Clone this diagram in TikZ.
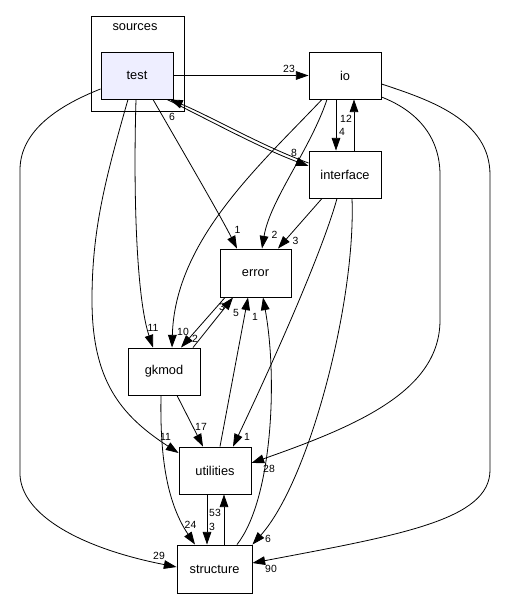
\documentclass[tikz,border=0pt]{standalone}
\usepackage{fontspec}
\setmainfont{Liberation Sans}
\usetikzlibrary{arrows.meta}
\definecolor{testfill}{RGB}{238,238,255}
\begin{document}
\begin{tikzpicture}[x=0.75pt,y=-0.75pt,
  box/.style={draw, line width=0.7pt, inner sep=0pt, minimum width=54pt, minimum height=35.25pt, font=\fontsize{9.6pt}{11pt}\selectfont},
  cluster/.style={draw, line width=0.7pt, inner sep=0pt, minimum width=69.75pt, minimum height=71.25pt},
  dep/.style={draw, line width=0.6pt, -{Triangle[length=9.5pt,width=6.5pt]}},
  lbl/.style={font=\fontsize{7.8pt}{9pt}\selectfont, inner sep=0pt}]
\useasboundingbox[fill=white] (0,0) rectangle (509,609);
% cluster
\node[cluster] (sources) at (137.5,63.5) {};
\node[font=\fontsize{9.6pt}{11pt}\selectfont, inner sep=0pt] (sourceslbl) at (135,27) {sources};
% nodes
\node[box, fill=testfill] (test) at (137,75.5) {test};
\node[box] (io) at (345,75.5) {io};
\node[box] (interface) at (345,174.5) {interface};
\node[box, minimum width=53.25pt, minimum height=36pt] (error) at (255.5,273) {error};
\node[box] (gkmod) at (164,371.5) {gkmod};
\node[box] (utilities) at (215,470.5) {utilities};
\node[box, minimum width=56.25pt, minimum height=36pt] (structure) at (214.5,569) {structure};
% edges
\draw[dep] (test.east) -- (io.west) node[lbl,at={(289,68.5)}] {23};
\draw[dep] ([shift={(30,0)}]test.south) .. controls (205,118) and (260,148) .. ([shift={(0,-8.5)}]interface.west) node[lbl,at={(294,153)}] {8};
\draw[dep] ([shift={(0,-11.5)}]interface.west) .. controls (262,146) and (210,116) .. ([shift={(33,0)}]test.south) node[lbl,at={(172,117)}] {6};
\draw[dep] ([shift={(-9,0)}]io.south) -- ([shift={(-9,0)}]interface.north) node[lbl,at={(342,132)}] {4};
\draw[dep] ([shift={(9,0)}]interface.north) -- ([shift={(9,0)}]io.south) node[lbl,at={(346,119)}] {12};
\draw[dep] ([shift={(16,0)}]test.south) .. controls (185,155) and (220,215) .. ([shift={(-18.5,0)}]error.north) node[lbl,at={(237.5,229.5)}] {1};
\draw[dep] ([shift={(-18,0)}]io.south) .. controls (310,150) and (270,200) .. ([shift={(6.5,0)}]error.north) node[lbl,at={(274.5,234.5)}] {2};
\draw[dep] ([shift={(-23,0)}]interface.south) -- ([shift={(22.5,0)}]error.north) node[lbl,at={(295.5,241)}] {3};
\draw[dep] ([shift={(-23,0)}]io.south) .. controls (260,165) and (175,240) .. ([shift={(8,0)}]gkmod.north) node[lbl,at={(183,332)}] {10};
\draw[dep] ([shift={(-1,0)}]test.south) .. controls (133,200) and (137,300) .. ([shift={(-11,0)}]gkmod.north) node[lbl,at={(153,328)}] {11};
\draw[dep] ([shift={(-9,0)}]test.south) .. controls (105,180) and (92,230) .. (92,300) .. controls (92,380) and (120,415) .. ([shift={(0,-17.5)}]utilities.west) node[lbl,at={(165.5,437)}] {11};
\draw[dep] ([shift={(0,13.5)}]test.west) .. controls (60,105) and (20,130) .. (20,170) -- (20,475) .. controls (22,515) and (80,548) .. ([shift={(0,-2)}]structure.west) node[lbl,at={(159,556)}] {29};
\draw[dep] ([shift={(0,21.5)}]io.east) .. controls (415,110) and (440,135) .. (440,175) -- (440,320) .. controls (440,390) and (360,425) .. ([shift={(0,-7.5)}]utilities.east) node[lbl,at={(269,469)}] {28};
\draw[dep] ([shift={(0,8.5)}]io.east) .. controls (430,100) and (490,120) .. (490,175) -- (490,470) .. controls (490,520) and (400,535) .. ([shift={(0,-6)}]structure.east) node[lbl,at={(271,569)}] {90};
\draw[dep] ([shift={(-8,0)}]interface.south) .. controls (320,260) and (260,390) .. ([shift={(18,0)}]utilities.north) node[lbl,at={(247,437)}] {1};
\draw[dep] ([shift={(7,0)}]interface.south) .. controls (356,300) and (310,480) .. (structure.north east) node[lbl,at={(268,539)}] {6};
\draw[dep] ([shift={(13,0)}]gkmod.south) -- ([shift={(-12,0)}]utilities.north) node[lbl,at={(201,426.5)}] {17};
\draw[dep] ([shift={(-3,0)}]gkmod.south) .. controls (160,450) and (165,500) .. ([shift={(-19.5,0)}]structure.north) node[lbl,at={(190.5,525)}] {24};
\draw[dep] ([shift={(29,0)}]gkmod.north) -- ([shift={(-22.5,0)}]error.south) node[lbl,at={(222,307)}] {3};
\draw[dep] ([shift={(-30.5,0)}]error.south) -- ([shift={(17,0)}]gkmod.north) node[lbl,at={(195,339)}] {2};
\draw[dep] ([shift={(5,0)}]utilities.north) -- ([shift={(-7.5,0)}]error.south) node[lbl,at={(236,313)}] {5};
\draw[dep] ([shift={(22.5,0)}]structure.north) .. controls (272,500) and (278,380) .. ([shift={(7.5,0)}]error.south) node[lbl,at={(255,317)}] {1};
\draw[dep] ([shift={(-8,0)}]utilities.south) -- ([shift={(-7.5,0)}]structure.north) node[lbl,at={(212,527)}] {3};
\draw[dep] ([shift={(9.5,0)}]structure.north) -- ([shift={(9,0)}]utilities.south) node[lbl,at={(215,512.5)}] {53};
\end{tikzpicture}
\end{document}
